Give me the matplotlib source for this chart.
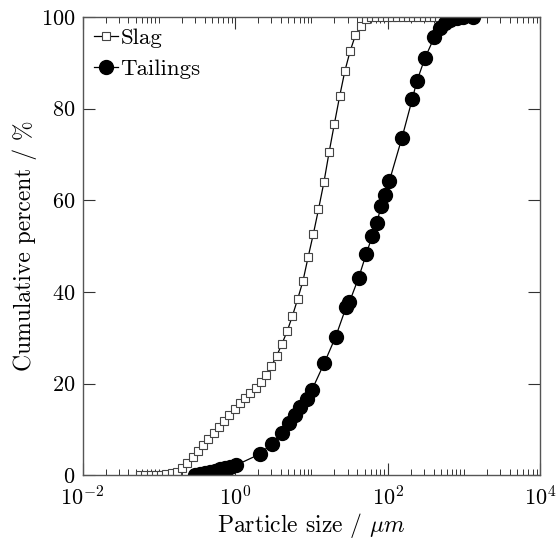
import numpy as np
import matplotlib
matplotlib.use("Agg")
import matplotlib.pyplot as plt
from matplotlib.ticker import LogLocator, NullFormatter, MultipleLocator

# Slag: particle size (um) and cumulative percent
slag_size = [0.0568, 0.0665, 0.0780, 0.0914, 0.107, 0.125, 0.147, 0.172, 0.202, 0.237,
             0.277, 0.325, 0.380, 0.446, 0.523, 0.612, 0.718, 0.841, 0.985, 1.15,
             1.35, 1.58, 1.86, 2.18, 2.55, 2.99, 3.50, 4.10, 4.81, 5.63,
             6.60, 7.74, 9.07, 10.6, 12.4, 14.6, 17.1, 20.0, 23.5, 27.5,
             32.2, 37.8, 44.3, 51.9, 60.8, 71.2, 83.4, 97.7, 115, 134,
             157, 184, 216, 253, 297, 348, 407, 477, 560]
slag_cum = [0, 0, 0, 0, 0.1, 0.2, 0.4, 0.65, 1.5, 2.6,
            3.9, 5.2, 6.5, 7.9, 9.2, 10.5, 11.8, 13.1, 14.4, 15.7,
            16.8, 17.9, 19.0, 20.3, 21.8, 23.8, 26.0, 28.6, 31.4, 34.7,
            38.4, 42.3, 47.6, 52.6, 58.0, 63.9, 70.5, 76.6, 82.7, 88.2,
            92.5, 96.0, 98.0, 99.5, 99.9, 100, 100, 100, 100, 100,
            100, 100, 100, 100, 100, 100, 100, 100, 100]

# Tailings
tail_size = [0.299, 0.348, 0.404, 0.470, 0.547, 0.636, 0.739, 0.860, 1.03, 2.10,
             3.03, 4.13, 5.03, 6.12, 7.12, 8.67, 10.1, 14.7, 20.8, 28.6,
             31.6, 41.7, 52.2, 62.6, 72.2, 82.2, 92.7, 105, 154, 210,
             242, 310, 411, 488, 568, 661, 808, 986, 1334]
tail_cum = [0.1, 0.3, 0.5, 0.8, 1.0, 1.3, 1.5, 1.9, 2.2, 4.6,
            6.9, 9.3, 11.3, 13.1, 14.8, 16.7, 18.5, 24.4, 30.2, 36.7,
            37.8, 43.1, 48.2, 52.1, 55.1, 58.7, 61.1, 64.1, 73.6, 82.0,
            86.0, 91.1, 95.6, 97.5, 98.6, 99.3, 99.8, 100, 100]

plt.rcParams['font.family'] = 'serif'
plt.rcParams['font.serif'] = ['cmr10']
plt.rcParams['mathtext.fontset'] = 'cm'
plt.rcParams['axes.unicode_minus'] = False
plt.rcParams['axes.formatter.use_mathtext'] = True
plt.rcParams['font.size'] = 16

fig = plt.figure(figsize=(5.58, 5.45), dpi=100)
ax = fig.add_axes([0.148, 0.128, 0.820, 0.841])

ax.plot(slag_size, slag_cum, '-s', color='black', lw=0.9, ms=6.2,
        mfc='white', mec='#444444', mew=0.8, label='Slag')
ax.plot(tail_size, tail_cum, '-o', color='black', lw=0.9, ms=10,
        mfc='black', mec='black', label='Tailings')

ax.set_xscale('log')
ax.set_xlim(1e-2, 1e4)
ax.set_ylim(0, 100)
ax.set_xticks([1e-2, 1e0, 1e2, 1e4])
ax.xaxis.set_minor_locator(LogLocator(base=10, subs=np.arange(1, 10), numticks=50))
ax.xaxis.set_minor_formatter(NullFormatter())
ax.yaxis.set_major_locator(MultipleLocator(20))

ax.tick_params(which='both', direction='in', top=True, right=True, color='#333333',
               labelsize=16)
ax.tick_params(which='major', length=8.5, width=0.8)
ax.tick_params(axis='x', which='major', pad=7.5)
ax.tick_params(axis='y', which='major', pad=5)
ax.tick_params(which='minor', length=4.5, width=0.7)
for s in ax.spines.values():
    s.set_color('#555555')
    s.set_linewidth(1.0)

ax.set_xlabel(r'Particle size / $\mu m$', fontsize=17, labelpad=1)
ax.set_ylabel('Cumulative percent / %', fontsize=17, labelpad=3)

ax.legend(loc='upper left', frameon=False, fontsize=16.5, handlelength=1.05,
          handletextpad=0.1, labelspacing=0.45, borderaxespad=0.2, borderpad=0.3)

fig.savefig('out.png', dpi=100)
